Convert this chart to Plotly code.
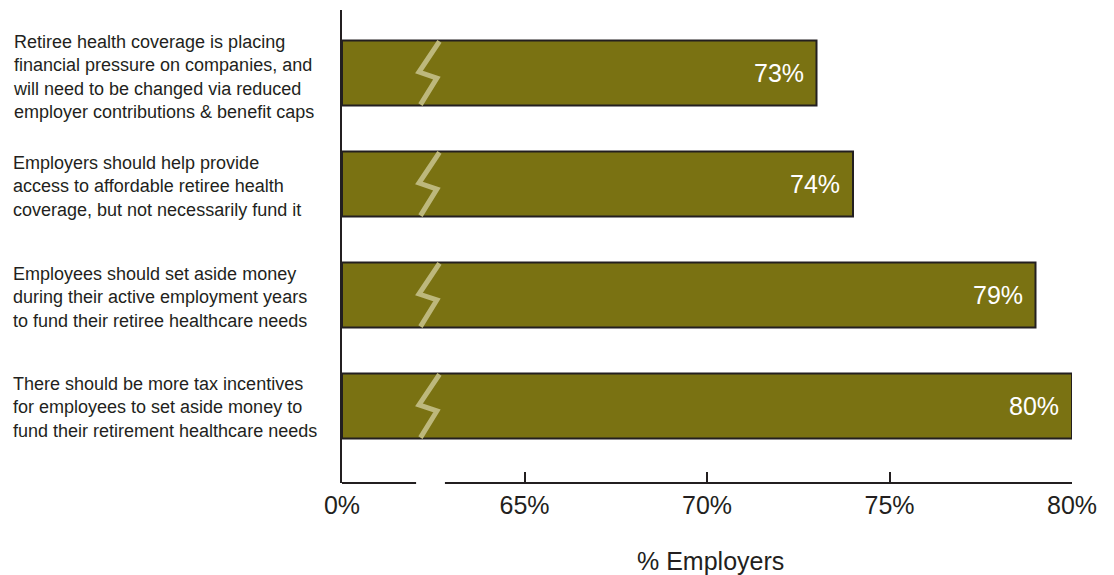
import plotly.graph_objects as go

# Survey statements (top to bottom) and share of employers agreeing
statements = [
    "Retiree health coverage is placing<br>financial pressure on companies, and<br>will need to be changed via reduced<br>employer contributions & benefit caps",
    "Employers should help provide<br>access to affordable retiree health<br>coverage, but not necessarily fund it",
    "Employees should set aside money<br>during their active employment years<br>to fund their retiree healthcare needs",
    "There should be more tax incentives<br>for employees to set aside money to<br>fund their retirement healthcare needs",
]
values = [73, 74, 79, 80]

# Broken axis: real 0% is shown where 60% would sit
tick_vals = [60, 65, 70, 75, 80]
tick_text = ["0%", "65%", "70%", "75%", "80%"]
AXIS_BASE = 60

BAR_COLOR = "#7A7212"
BREAK_COLOR = "#BDB87C"
INK = "#231F20"
FONT = "Liberation Sans, Arial, sans-serif"

rows = list(range(len(statements)))

fig = go.Figure()
fig.add_trace(go.Bar(
    y=rows,
    x=[v - AXIS_BASE for v in values],
    base=AXIS_BASE,
    orientation="h",
    marker=dict(color=BAR_COLOR, line=dict(color=INK, width=2)),
    hoverinfo="skip",
))

shapes = []
annotations = []
for r, v, s in zip(rows, values, statements):
    # value label inside the bar end
    annotations.append(dict(
        x=v, y=r, xref="x", yref="y", text=f"{v}%", showarrow=False,
        xanchor="right", yanchor="middle", xshift=-11,
        font=dict(family=FONT, size=25, color="white"),
    ))
    # statement text on the left
    annotations.append(dict(
        x=-0.4535, y=r, xref="paper", yref="y", text=s, showarrow=False,
        xanchor="left", yanchor="middle", align="left",
        yshift=-4 if s.count("<br>") == 3 else -2,
        font=dict(family=FONT, size=18, color=INK),
    ))
    # zigzag break mark across each bar
    path = (f"M 62.67 {r - 0.285} L 62.11 {r - 0.009} "
            f"L 62.60 {r + 0.045} L 62.15 {r + 0.285}")
    shapes.append(dict(type="path", path=path, xref="x", yref="y",
                       line=dict(color=BREAK_COLOR, width=5), layer="above"))

# x axis baseline with a gap marking the break
for x0, x1 in [(60, 62.03), (62.82, 80)]:
    shapes.append(dict(type="line", xref="x", yref="paper", x0=x0, x1=x1,
                       y0=0, y1=0, line=dict(color=INK, width=2)))

annotations.append(dict(
    x=0.5, y=-0.165, xref="paper", yref="paper", text="% Employers",
    showarrow=False, xanchor="center", yanchor="middle", xshift=3,
    font=dict(family=FONT, size=25, color=INK),
))

fig.update_layout(
    width=1114, height=575,
    margin=dict(l=342, r=42, t=10, b=92),
    paper_bgcolor="white", plot_bgcolor="white",
    bargap=0.414, showlegend=False,
    shapes=shapes, annotations=annotations,
    xaxis=dict(
        range=[60, 80], tickvals=tick_vals, ticktext=tick_text,
        ticks="inside", ticklen=11, tickwidth=2, tickcolor=INK,
        showline=False, showgrid=False, zeroline=False,
        tickfont=dict(family=FONT, size=25, color=INK),
        ticklabelstandoff=5,
    ),
    yaxis=dict(
        range=[3.694, -0.568], showticklabels=False, ticks="",
        showline=True, linewidth=2, linecolor=INK,
        showgrid=False, zeroline=False,
    ),
)

fig.write_html("out.html")
